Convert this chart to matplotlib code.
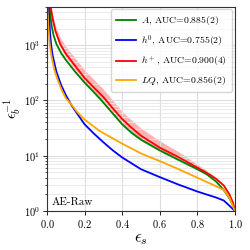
import numpy as np
import matplotlib
matplotlib.use('Agg')
import matplotlib.pyplot as plt

plt.rcParams['font.family'] = ['cmr10', 'DejaVu Serif']
plt.rcParams['mathtext.fontset'] = 'cm'
plt.rcParams['axes.formatter.use_mathtext'] = True

# signal efficiency vs inverse background efficiency
eps_A = [0.014, 0.018, 0.025, 0.035, 0.05, 0.075, 0.1, 0.15, 0.2, 0.25, 0.29, 0.35, 0.4,
         0.45, 0.5, 0.6, 0.7, 0.8, 0.85, 0.9, 0.94, 0.97, 0.99, 1.0]
inv_A = [5000, 3500, 2200, 1500, 1050, 720, 540, 330, 210, 140, 100, 58, 37,
         26, 19.5, 12.5, 8.4, 5.7, 4.6, 3.4, 2.4, 1.7, 1.25, 1.0]
inv_A_lo = [5000, 3350, 2100, 1430, 1000, 685, 515, 314, 200, 133, 95, 55, 35.2,
            24.7, 18.6, 11.9, 8.0, 5.5, 4.45, 3.3, 2.35, 1.68, 1.25, 1.0]
inv_A_hi = [5000, 3650, 2300, 1570, 1100, 755, 565, 346, 220, 147, 105, 61, 38.8,
            27.3, 20.4, 13.1, 8.8, 5.9, 4.75, 3.5, 2.45, 1.72, 1.25, 1.0]

eps_h0 = [0.009, 0.012, 0.016, 0.022, 0.03, 0.05, 0.075, 0.1, 0.13, 0.16, 0.2, 0.25, 0.3,
          0.35, 0.4, 0.5, 0.6, 0.7, 0.8, 0.9, 0.94, 0.97, 1.0]
inv_h0 = [5000, 3000, 1700, 1000, 650, 330, 190, 125, 82, 58, 37, 25, 17.5,
          12.5, 9.3, 5.7, 4.1, 3.0, 2.25, 1.75, 1.55, 1.25, 1.0]

eps_hp = [0.02, 0.025, 0.033, 0.045, 0.07, 0.1, 0.15, 0.2, 0.25, 0.3, 0.35, 0.4, 0.45,
          0.5, 0.6, 0.7, 0.8, 0.85, 0.9, 0.94, 0.97, 0.99, 1.0]
inv_hp = [5000, 3800, 2700, 1800, 1050, 700, 420, 255, 170, 115, 72, 46, 32,
          23, 14.0, 9.4, 6.1, 4.9, 3.8, 2.9, 2.0, 1.4, 1.0]
inv_hp_lo = [5000, 3500, 2450, 1600, 920, 600, 360, 218, 146, 99, 62, 39.5, 27.5,
             19.8, 12.2, 8.4, 5.6, 4.65, 3.7, 2.85, 2.0, 1.4, 1.0]
inv_hp_hi = [5000, 4300, 3200, 2250, 1380, 950, 580, 355, 238, 160, 100, 63, 44,
             31.5, 18.5, 11.8, 7.0, 5.4, 4.05, 3.0, 2.05, 1.4, 1.0]

eps_LQ = [0.002, 0.006, 0.01, 0.015, 0.025, 0.04, 0.06, 0.08, 0.1, 0.13, 0.16, 0.2,
          0.28, 0.4, 0.5, 0.6, 0.7, 0.8, 0.9, 0.94, 0.97, 1.0]
inv_LQ = [5000, 2500, 1600, 1000, 600, 350, 220, 150, 110, 84, 62, 45,
          28, 16.5, 11, 8, 5.7, 4.0, 2.8, 2.4, 1.75, 1.0]

labels = [r'$A$, AUC=0.885(2)', r'$h^0$, AUC=0.755(2)',
          r'$h^+$, AUC=0.900(4)', r'$LQ$, AUC=0.856(2)']

fig = plt.figure(figsize=(2.5, 2.5), dpi=100)
ax = fig.add_axes([0.188, 0.156, 0.752, 0.818])

ax.fill_between(eps_hp, inv_hp_lo, inv_hp_hi, color='red', alpha=0.3, lw=0)
ax.fill_between(eps_A, inv_A_lo, inv_A_hi, color='green', alpha=0.35, lw=0)
ax.plot(eps_A, inv_A, color='green', lw=1.3, label=labels[0])
ax.plot(eps_h0, inv_h0, color='blue', lw=1.3, label=labels[1])
ax.plot(eps_hp, inv_hp, color='red', lw=1.3, label=labels[2])
ax.plot(eps_LQ, inv_LQ, color='orange', lw=1.3, label=labels[3])

ax.set_yscale('log')
ax.set_xlim(0, 1)
ax.set_ylim(1, 5000)
ax.set_xticks([0.0, 0.2, 0.4, 0.6, 0.8, 1.0])
ax.grid(True, which='major', color='#dddddd', lw=0.8)
ax.grid(True, which='minor', axis='y', color='#e6e6e6', lw=0.6)
ax.tick_params(labelsize=7.5, length=3, width=0.6, pad=2)
ax.tick_params(which='minor', length=1.5, width=0.5)
for s in ax.spines.values():
    s.set_color('#333333')
    s.set_linewidth(0.8)

ax.set_xlabel(r'$\epsilon_s$', fontsize=12, labelpad=1)
ax.set_ylabel(r'$\epsilon_b^{-1}$', fontsize=10.5)
ax.yaxis.set_label_coords(-0.13, 0.5)
ax.text(0.025, 0.03, 'AE-Raw', transform=ax.transAxes, fontsize=8)
ax.legend(loc='upper right', fontsize=7, handlelength=2.0, borderaxespad=0.3,
          labelspacing=0.6, borderpad=0.5, handletextpad=0.6, framealpha=0.8)

fig.savefig('out.png', dpi=100)
